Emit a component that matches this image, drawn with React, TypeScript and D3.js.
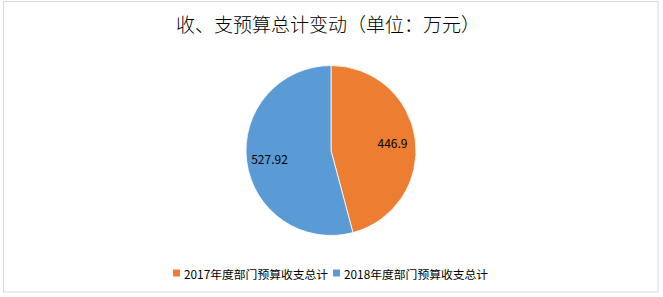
import React from "react";
import * as d3 from "d3";

const title = "收、支预算总计变动（单位：万元）";
const categories = ["2017年度部门预算收支总计", "2018年度部门预算收支总计"];
const values = [446.9, 527.92];
const labels = ["446.9", "527.92"];
const colors = ["#ED7D31", "#5B9BD5"];

export default function App() {
  const W = 663, H = 297;
  const cx = 331, cy = 150.5, r = 85;
  const pie = d3.pie<number>().sort(null).startAngle(0).endAngle(2 * Math.PI);
  const arcs = pie(values);
  const arc = d3.arc<d3.PieArcDatum<number>>().innerRadius(0).outerRadius(r);
  const labelArc = d3.arc<d3.PieArcDatum<number>>().innerRadius(r * 0.73).outerRadius(r * 0.73);
  const font = "'Noto Sans CJK SC', 'Noto Sans', sans-serif";
  const legendX = [173, 333];
  return (
    <svg width={W} height={H} style={{ position: "absolute", left: 0, top: 0 }} fontFamily={font}>
      <rect x={0} y={0} width={W} height={H} fill="#fff" />
      <rect x={3.5} y={1.5} width={654.5} height={290.5} fill="#fff" stroke="#d9d9d9" strokeWidth={1} />
      <text x={328} y={23} textAnchor="middle" dominantBaseline="central" fontSize={19} fontWeight={300} fill="#000">{title}</text>
      <g transform={`translate(${cx},${cy})`}>
        {arcs.map((a, i) => (
          <path key={i} d={arc(a) || ""} fill={colors[i]} stroke="#fff" strokeWidth={0.8} />
        ))}
        {arcs.map((a, i) => {
          const [x, y] = labelArc.centroid(a);
          return (
            <text key={"l" + i} x={x} y={y} textAnchor="middle" dominantBaseline="central" fontSize={12} fill="#000">{labels[i]}</text>
          );
        })}
      </g>
      {categories.map((c, i) => (
        <g key={"lg" + i} transform={`translate(${legendX[i]},273)`}>
          <rect x={0} y={-3.5} width={7} height={7} fill={colors[i]} />
          <text x={11} y={0} dominantBaseline="central" fontSize={11.8} fill="#000">{c}</text>
        </g>
      ))}
    </svg>
  );
}
